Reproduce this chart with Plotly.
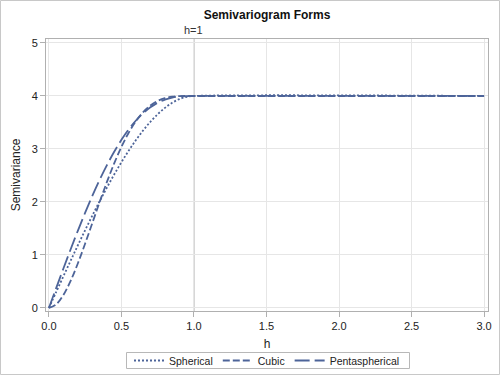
import plotly.graph_objects as go

h = [0.0, 0.05, 0.1, 0.15, 0.2, 0.25, 0.3, 0.35, 0.4, 0.45, 0.5, 0.55, 0.6, 0.65,
     0.7, 0.75, 0.8, 0.85, 0.9, 0.95, 1.0, 3.0]
spherical = [0.0, 0.300, 0.598, 0.893, 1.184, 1.469, 1.746, 2.014, 2.272, 2.518, 2.750,
             2.967, 3.168, 3.351, 3.514, 3.656, 3.776, 3.872, 3.942, 3.985, 4.0, 4.0]
cubic = [0.0, 0.066, 0.245, 0.513, 0.844, 1.217, 1.608, 2.001, 2.378, 2.728, 3.039,
         3.306, 3.525, 3.696, 3.821, 3.906, 3.958, 3.986, 3.997, 4.000, 4.0, 4.0]
pentaspherical = [0.0, 0.374, 0.745, 1.108, 1.460, 1.798, 2.119, 2.419, 2.695, 2.947,
                  3.172, 3.369, 3.537, 3.676, 3.787, 3.872, 3.932, 3.970, 3.991, 3.999,
                  4.0, 4.0]
x_ticks = [0.0, 0.5, 1.0, 1.5, 2.0, 2.5, 3.0]
y_ticks = [0, 1, 2, 3, 4, 5]

color = "#4d6499"
font = "Liberation Sans, Arial, sans-serif"

fig = go.Figure()
series = [("Spherical", spherical, "2px,2px"),
          ("Cubic", cubic, "7px,3px"),
          ("Pentaspherical", pentaspherical, "15px,5px")]
for name, vals, dash in series:
    fig.add_trace(go.Scatter(x=h, y=vals, mode="lines", name=name,
                             line=dict(color=color, width=1.8, dash=dash, shape="spline")))

L, R, T, B = 46, 12, 39, 64
W, H = 500, 375
pw, ph = W - L - R, H - T - B


def px_x(v):
    return (v - L) / pw


def px_y(v):
    return (T + ph - v) / ph


fig.add_shape(type="line", xref="x", yref="paper", x0=1, x1=1, y0=0, y1=1,
              line=dict(color="#a8a8a8", width=1), layer="below")
fig.add_annotation(x=1, y=1, xref="x", yref="paper", text="h=1", showarrow=False,
                   yanchor="bottom", yshift=1, font=dict(size=11, color="#333"))
# outer border
fig.add_shape(type="rect", xref="paper", yref="paper",
              x0=px_x(0.5), x1=px_x(W - 0.5), y0=px_y(H - 0.5), y1=px_y(0.5),
              line=dict(color="#c8c8c8", width=1), layer="below")
# legend frame
fig.add_shape(type="rect", xref="paper", yref="paper",
              x0=px_x(126.5), x1=px_x(409.5), y0=px_y(368.5), y1=px_y(352.5),
              line=dict(color="#b8b8b8", width=1), layer="below")

fig.update_layout(
    width=W, height=H,
    margin=dict(l=L, r=R, t=T, b=B, autoexpand=False),
    paper_bgcolor="white", plot_bgcolor="white",
    font=dict(family=font, size=11, color="#222"),
    title=dict(text="<b>Semivariogram Forms</b>", x=0.5, xref="paper",
               y=1 - 15 / H, yanchor="middle", font=dict(size=12, color="#111")),
    showlegend=True,
    legend=dict(orientation="h", x=0.5, xanchor="center", y=px_y(346),
                yanchor="top", borderwidth=0, bgcolor="rgba(0,0,0,0)",
                font=dict(size=10.5), itemwidth=30, tracegroupgap=0),
)
fig.update_xaxes(range=[-0.02, 3.027], tickvals=x_ticks, tickformat=".1f",
                 showgrid=True, gridcolor="#e6e6e6", zeroline=False,
                 showline=True, linecolor="#b0b0b0", mirror=True,
                 ticks="outside", ticklen=5, tickcolor="#b0b0b0", automargin=False,
                 title=dict(text="h", font=dict(size=12), standoff=8))
fig.update_yaxes(range=[-0.057, 5.075], tickvals=y_ticks,
                 showgrid=True, gridcolor="#e6e6e6", zeroline=False,
                 showline=True, linecolor="#b0b0b0", mirror=True,
                 ticks="outside", ticklen=5, tickcolor="#b0b0b0", automargin=False,
                 title=dict(text="Semivariance", font=dict(size=12), standoff=8))

fig.write_html("out.html", config={"displayModeBar": False},
               post_script="document.body.style.margin='0';document.body.style.padding='0';")
